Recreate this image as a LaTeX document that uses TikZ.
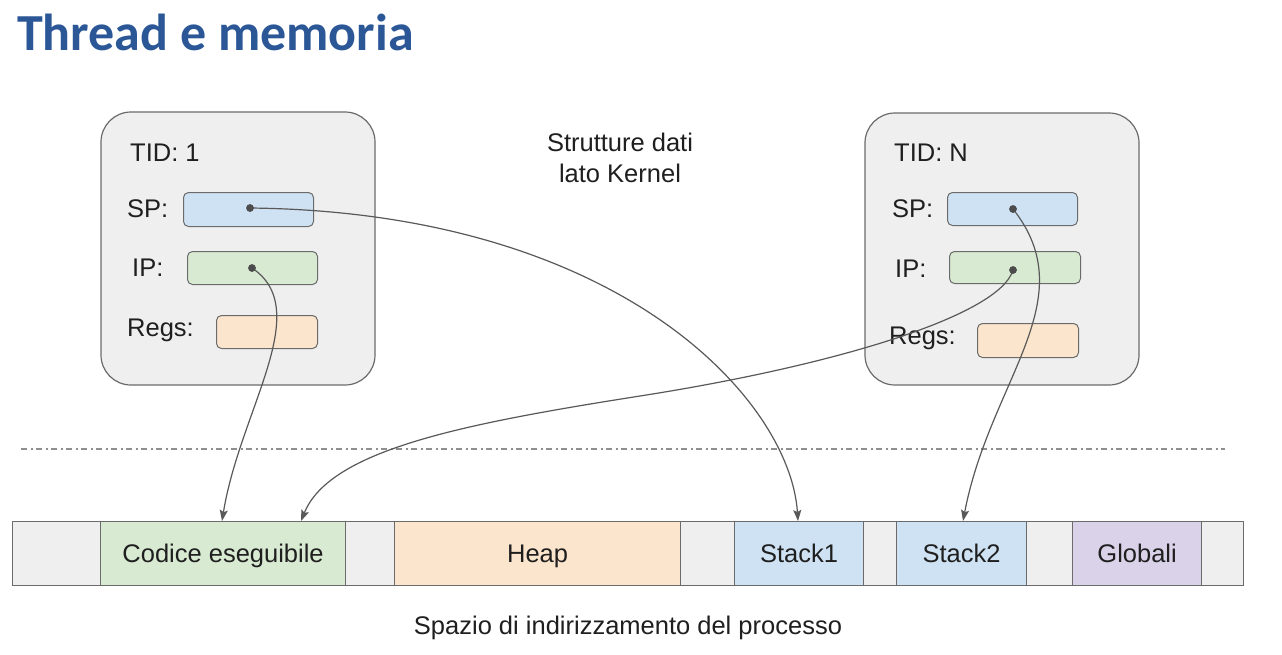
\documentclass[tikz,border=0pt]{standalone}
\usepackage{fontspec}
\setmainfont{Liberation Sans}
\newfontfamily\titlefont{Carlito}
\usetikzlibrary{arrows.meta}
\definecolor{titleblue}{HTML}{2B5797}
\definecolor{boxgray}{HTML}{EFEFEF}
\definecolor{edgegray}{HTML}{6B6B6B}
\definecolor{spblue}{HTML}{CFE2F3}
\definecolor{ipgreen}{HTML}{D9EAD3}
\definecolor{regorange}{HTML}{FCE5CD}
\definecolor{globpurple}{HTML}{D9D2E9}
\definecolor{arrowgray}{HTML}{595959}
\definecolor{txt}{HTML}{1F1F1F}
\definecolor{dashgray}{HTML}{8F8F8F}
\tikzset{
  kbox/.style={draw=edgegray, fill=boxgray, line width=1.2pt, rounded corners=30pt},
  reg/.style={draw=edgegray, line width=1pt, rounded corners=5pt, inner sep=0pt, anchor=north west},
  lbl/.style={anchor=west, inner sep=0pt, text=txt, font=\fontsize{25.5}{30}\selectfont},
  seg/.style={draw=edgegray, line width=1.2pt, inner sep=0pt, minimum height=64pt, anchor=north west, text=txt, text height=18pt, text depth=0pt, font=\fontsize{25.5}{30}\selectfont},
  ptr/.style={draw=arrowgray, line width=1.2pt, -{Stealth[length=11pt,width=8pt,inset=2pt]}},
  pdot/.style={circle, fill=arrowgray!85!black, inner sep=0pt, minimum size=7.5pt},
}
\begin{document}
\begin{tikzpicture}[x=1pt,y=-1pt]
\useasboundingbox[fill=white] (0,0) rectangle (1282,654);

% title
\node[anchor=base west, inner sep=0pt, text=titleblue, font=\titlefont\bfseries\fontsize{52}{60}\selectfont] (title) at (17,50) {Thread e memoria};

% kernel structures label
\node[align=center, inner sep=0pt, text=txt, font=\fontsize{25.5}{31}\selectfont] (kern) at (620,158) {Strutture dati\\lato Kernel};

% left thread box
\draw[kbox] (101,112) rectangle (375,385);
\node[lbl] (tid1) at (130,153) {TID: 1};
\node[lbl] (spl1) at (127,209) {SP:};
\node[lbl] (ipl1) at (132,268) {IP:};
\node[lbl] (rgl1) at (127,330) {Regs:};
\node[reg, fill=spblue, minimum width=130pt, minimum height=34pt] (sp1) at (183,192) {};
\node[reg, fill=ipgreen, minimum width=130pt, minimum height=33pt] (ip1) at (187,251) {};
\node[reg, fill=regorange, minimum width=101pt, minimum height=33pt] (rg1) at (216,315) {};

% right thread box
\draw[kbox] (865,113) rectangle (1139,385);
\node[lbl] (tidN) at (894,153) {TID: N};
\node[lbl] (splN) at (892,209) {SP:};
\node[lbl] (iplN) at (895,269) {IP:};
\node[lbl] (rglN) at (889,338) {Regs:};
\node[reg, fill=spblue, minimum width=130pt, minimum height=33pt] (spN) at (947,192) {};
\node[reg, fill=ipgreen, minimum width=131pt, minimum height=32pt] (ipN) at (949,251) {};
\node[reg, fill=regorange, minimum width=101pt, minimum height=34pt] (rgN) at (977,323) {};

% separator
\coordinate (sepL) at (21,449);
\coordinate (sepR) at (1225,449);
\draw[dashgray, line width=1.3pt, dash pattern=on 6pt off 4pt on 1.5pt off 3.5pt] (sepL) -- (sepR);

% memory bar
\node[seg, fill=boxgray, minimum width=88pt] (g0) at (12,521) {};
\node[seg, fill=ipgreen, minimum width=245pt] (code) at (100,521) {Codice eseguibile};
\node[seg, fill=boxgray, minimum width=49pt] (g1) at (345,521) {};
\node[seg, fill=regorange, minimum width=286pt] (heap) at (394,521) {Heap};
\node[seg, fill=boxgray, minimum width=54pt] (g2) at (680,521) {};
\node[seg, fill=spblue, minimum width=129pt] (st1) at (734,521) {Stack1};
\node[seg, fill=boxgray, minimum width=33pt] (g3) at (863,521) {};
\node[seg, fill=spblue, minimum width=130pt] (st2) at (896,521) {Stack2};
\node[seg, fill=boxgray, minimum width=46pt] (g4) at (1026,521) {};
\node[seg, fill=globpurple, minimum width=129pt] (glob) at (1072,521) {Globali};
\node[seg, fill=boxgray, minimum width=42pt] (g5) at (1201,521) {};

\node[inner sep=0pt, text=txt, font=\fontsize{25.5}{30}\selectfont] (space) at (628,628) {Spazio di indirizzamento del processo};

% pointer dots
\node[pdot] (d1sp) at (250,208) {};
\node[pdot] (d1ip) at (252,268) {};
\node[pdot] (dNsp) at (1013,209) {};
\node[pdot] (dNip) at (1013,270) {};

% pointers
\draw[ptr] (d1ip.center) .. controls (315,310) and (240,410) .. ([xshift=122pt]code.north west);
\draw[ptr] (d1sp.center) .. controls (620,212) and (790,400) .. ([xshift=64pt]st1.north west);
\draw[ptr] (dNsp.center) .. controls (1085,300) and (990,380) .. ([xshift=67pt]st2.north west);
\draw[ptr] (dNip.center) .. controls (1000,315) and (838,365) .. (640,396)
  .. controls (462,424) and (330,450) .. ([xshift=201pt]code.north west);

% redraw dots on top
\fill[arrowgray!85!black] (d1sp) circle (3.75pt) (d1ip) circle (3.75pt) (dNsp) circle (3.75pt) (dNip) circle (3.75pt);
\end{tikzpicture}
\end{document}
